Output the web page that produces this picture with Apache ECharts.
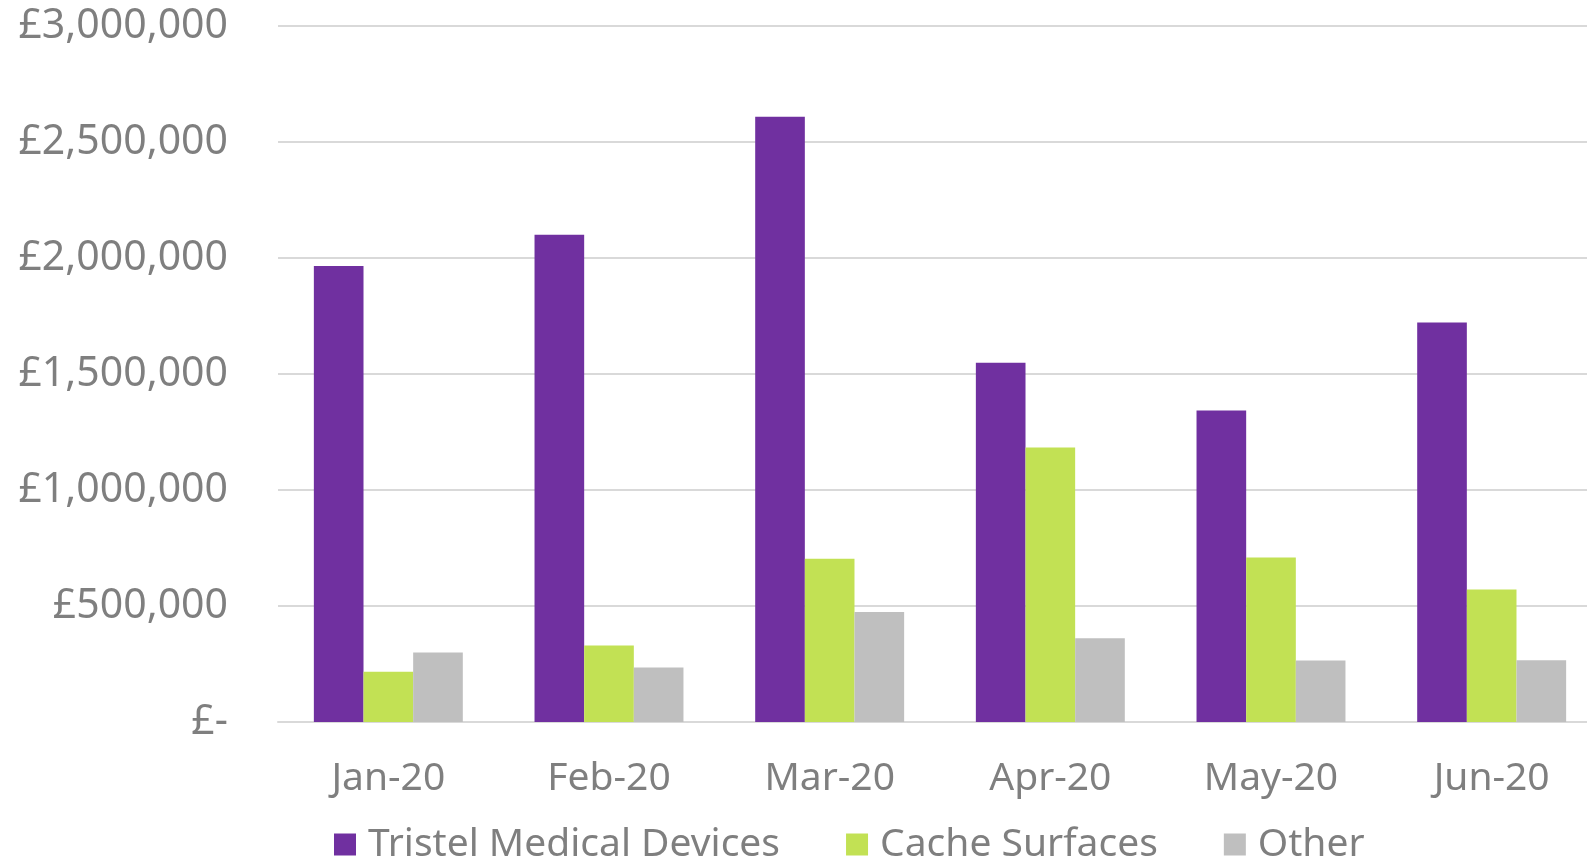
<!DOCTYPE html>
<html>
<head>
<meta charset="utf-8">
<script src="https://cdn.jsdelivr.net/npm/echarts@6/dist/echarts.min.js"></script>
<style>
    html, body {margin:0; padding:0; background:#fff;}
    #main {width:1587px; height:859px;}
</style>
</head>
<body>
<div id="main"></div>
<script>
var months = ['Jan-20', 'Feb-20', 'Mar-20', 'Apr-20', 'May-20', 'Jun-20'];
var medical = [1965000, 2100000, 2609000, 1548000, 1343000, 1722000];
var cache = [217000, 330000, 704000, 1183000, 709000, 571000];
var other = [300000, 235000, 474000, 361000, 265000, 266000];

var font = "'Noto Sans', sans-serif";

var myChart = echarts.init(document.getElementById('main'));
myChart.setOption({
    animation: false,
    textStyle: {fontFamily: font},
    grid: {
        left: 278,
        width: 1324,
        top: 26,
        bottom: 137,
        outerBoundsMode: 'none',
        containLabel: false
    },
    legend: {
        data: ['Tristel Medical Devices', 'Cache Surfaces', 'Other'],
        left: 329,
        top: 820,
        icon: 'rect',
        itemWidth: 22,
        itemHeight: 22,
        itemGap: 66,
        textStyle: {
            color: '#7f7f7f',
            fontSize: 39,
            padding: [0, 0, 0, 7],
            fontFamily: font
        }
    },
    xAxis: {
        type: 'category',
        data: months,
        axisTick: {show: false},
        axisLine: {lineStyle: {color: '#d9d9d9', width: 2}},
        axisLabel: {
            color: '#7f7f7f',
            fontSize: 39,
            margin: 37,
            fontFamily: font
        }
    },
    yAxis: {
        type: 'value',
        min: 0,
        max: 3000000,
        interval: 500000,
        axisLine: {show: false},
        axisTick: {show: false},
        splitLine: {lineStyle: {color: '#d9d9d9', width: 2}},
        axisLabel: {
            color: '#7f7f7f',
            fontSize: 41,
            margin: 50,
            fontFamily: font,
            formatter: function (v) {
                if (v == 0) {
                    return '£-';
                }
                return '£' + v.toLocaleString('en-GB');
            }
        }
    },
    series: [
        {
            name: 'Tristel Medical Devices',
            type: 'bar',
            data: medical,
            barGap: '0%',
            barCategoryGap: '32.5%',
            itemStyle: {color: '#7030a0'}
        },
        {
            name: 'Cache Surfaces',
            type: 'bar',
            data: cache,
            itemStyle: {color: '#c2e154'}
        },
        {
            name: 'Other',
            type: 'bar',
            data: other,
            itemStyle: {color: '#bfbfbf'}
        }
    ]
});
</script>
</body>
</html>
